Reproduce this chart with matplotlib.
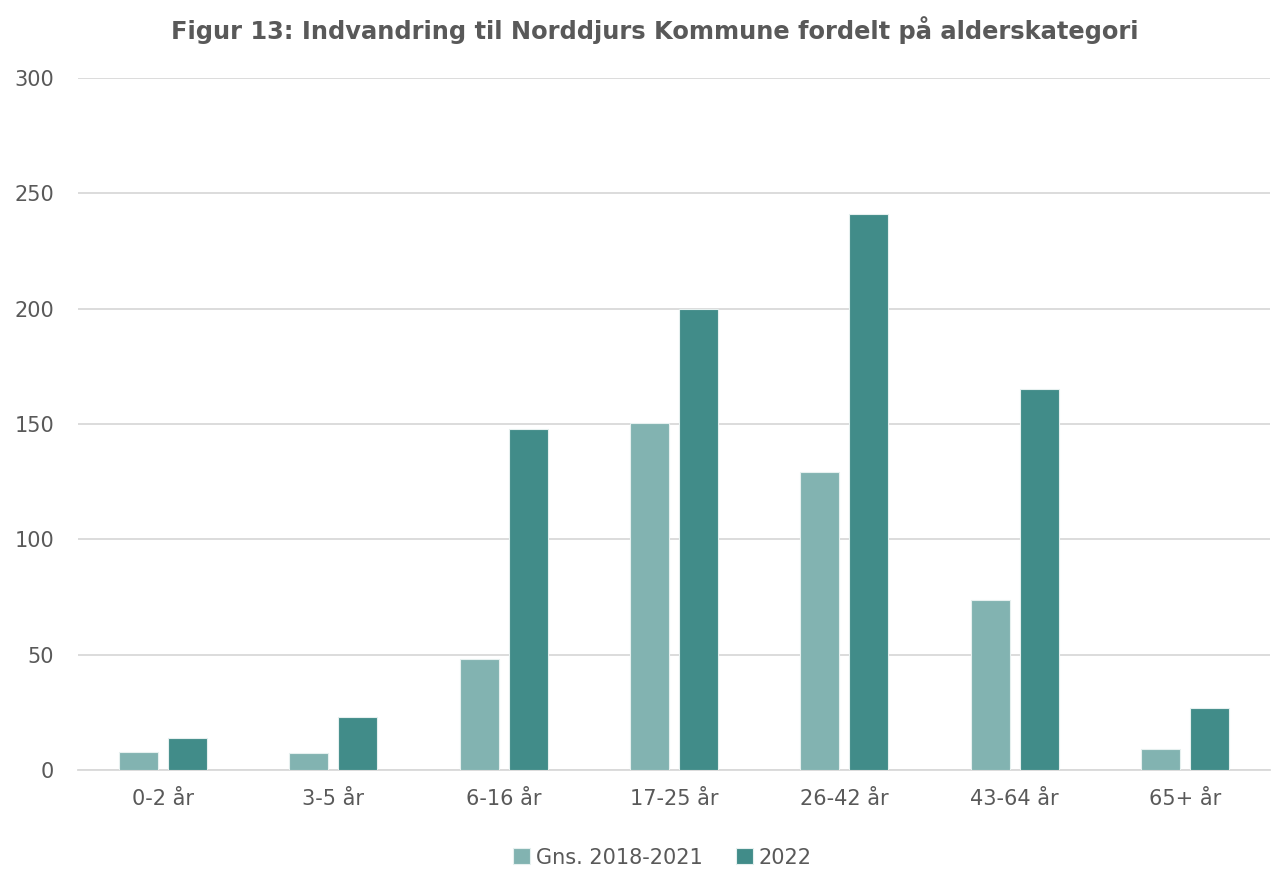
import numpy as np
import matplotlib.pyplot as plt

# aldersgrupper og tal
kategorier = ['0-2 år', '3-5 år', '6-16 år', '17-25 år', '26-42 år', '43-64 år', '65+ år']
gns_2018_2021 = [7.75, 7.25, 48.25, 150.5, 129, 73.5, 9.25]
aar_2022 = [14, 23, 148, 200, 241, 165, 27]

lys = '#82B3B1'
moerk = '#418C89'
tekst = '#595959'

plt.rcParams['font.family'] = ['DejaVu Sans']

fig = plt.figure(figsize=(12.74, 8.69), dpi=100)
ax = fig.add_axes([0.0612, 0.1139, 0.9357, 0.7963])

x = np.arange(len(kategorier))
b = 0.229
ax.bar(x - 0.144, gns_2018_2021, b, color=lys, edgecolor='#E6F0EF', linewidth=0.8,
       label='Gns. 2018-2021', zorder=3)
ax.bar(x + 0.144, aar_2022, b, color=moerk, edgecolor='#E6F0EF', linewidth=0.8,
       label='2022', zorder=3)

ax.set_xlim(-0.5, len(kategorier) - 0.5)
ax.set_ylim(0, 300)
ax.set_yticks(range(0, 301, 50))
ax.set_xticks(x)
ax.set_xticklabels(kategorier)
ax.yaxis.grid(True, color='#D9D9D9', linewidth=1.3, zorder=0)
ax.tick_params(length=0, labelsize=15, colors=tekst)
ax.tick_params(axis='x', pad=14)
ax.tick_params(axis='y', pad=17)
for s in ['top', 'right', 'left']:
    ax.spines[s].set_visible(False)
ax.spines['bottom'].set_color('#D9D9D9')
ax.spines['bottom'].set_linewidth(1.3)

fig.suptitle('Figur 13: Indvandring til Norddjurs Kommune fordelt på alderskategori',
             x=0.514, y=0.982, fontsize=17.4, fontweight='bold', color=tekst)

leg = fig.legend(loc='center', bbox_to_anchor=(0.52, 0.013), ncol=2, frameon=False,
                 fontsize=15, handlelength=0.8, handleheight=0.8, handletextpad=0.3,
                 columnspacing=1.6)
for t in leg.get_texts():
    t.set_color(tekst)

fig.savefig('out.png', dpi=100)
